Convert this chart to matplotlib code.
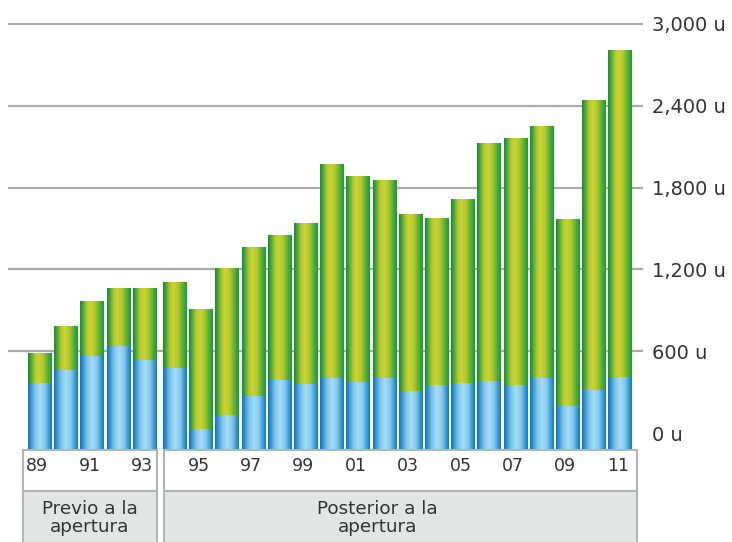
import numpy as np
import matplotlib.pyplot as plt
import matplotlib.transforms as mtransforms
from matplotlib.colors import LinearSegmentedColormap
from matplotlib.patches import Rectangle

# data
years = ['89', '90', '91', '92', '93', '94', '95', '96', '97', '98', '99', '00',
         '01', '02', '03', '04', '05', '06', '07', '08', '09', '10', '11']
blue = [366, 463, 566, 639, 537, 478, 29, 132, 271, 388, 359, 402,
        373, 402, 307, 351, 366, 380, 351, 405, 200, 317, 410]
total = [585, 783, 966, 1061, 1061, 1105, 907, 1207, 1361, 1456, 1544, 1976,
         1888, 1858, 1610, 1580, 1720, 2129, 2166, 2254, 1573, 2444, 2810]
yticks = [0, 600, 1200, 1800, 2400, 3000]
groups = ['Previo a la\napertura', 'Posterior a la\napertura']
n_before = 5

W, H = 732, 542
fig = plt.figure(figsize=(W / 100, H / 100), dpi=100)
ax = fig.add_axes([8 / W, (H - 449) / H, (643 - 8) / W, (449 - 15) / H])

base = -117
x = np.arange(len(years)) + np.where(np.arange(len(years)) >= n_before, 0.15, 0.0)
width = 0.88
blue_arr = np.array(blue)
green_arr = np.array(total) - blue_arr

blue_cmap = LinearSegmentedColormap.from_list('b', [
    (0.0, '#0a72bb'), (0.3, '#7cc6ec'), (0.5, '#a6dbf4'), (0.7, '#86cbee'), (1.0, '#0b7ac2')])
green_cmap = LinearSegmentedColormap.from_list('g', [
    (0.0, '#0a8c3c'), (0.3, '#b3ca2f'), (0.45, '#cdd331'), (0.62, '#b2c92f'), (1.0, '#119a3b')])

bb = ax.bar(x, blue_arr - base, width, bottom=base, color='none', lw=0, zorder=2)
gb = ax.bar(x, green_arr, width, bottom=blue_arr, color='none', lw=0, zorder=2)

grad = np.linspace(0, 1, 256).reshape(1, -1)
for bars, cmap in ((bb, blue_cmap), (gb, green_cmap)):
    for p in bars:
        x0, y0 = p.get_x(), p.get_y()
        im = ax.imshow(grad, cmap=cmap, aspect='auto', zorder=2,
                       extent=[x0, x0 + p.get_width(), y0, y0 + p.get_height()],
                       interpolation='bilinear')
        im.set_clip_path(p)

for t in yticks[1:]:
    ax.axhline(t, color='#aaaaaa', lw=1.6, zorder=1)

ax.set_xlim(-1.202, 23.03)
ax.set_ylim(base, 3066)
for s in ax.spines.values():
    s.set_visible(False)
ax.set_xticks([])
ax.yaxis.tick_right()
ax.set_yticks(yticks)
ax.set_yticklabels([f'{t:,} u' for t in yticks])
ax.tick_params(axis='y', length=0, pad=6.5, labelsize=14, labelcolor='#333333')

# category boxes under the bars
trans = mtransforms.blended_transform_factory(ax.transData, ax.transAxes)
to_ax = lambda py: (449 - py) / 434.0
to_dx = lambda px: (px - 39.5) / 26.2
boxes = [(to_dx(23), to_dx(157)), (to_dx(164), to_dx(637))]
label_x = [to_dx(90), to_dx(377)]
for (bx0, bx1), lab, lx in zip(boxes, groups, label_x):
    ax.add_patch(Rectangle((bx0, to_ax(490.5)), bx1 - bx0, to_ax(450) - to_ax(490.5),
                           transform=trans, facecolor='white', edgecolor='#b4b4b4',
                           lw=1.5, clip_on=False))
    ax.add_patch(Rectangle((bx0, to_ax(570)), bx1 - bx0, to_ax(490.5) - to_ax(570),
                           transform=trans, facecolor='#e3e4e4', edgecolor='#b4b4b4',
                           lw=1.5, clip_on=False))
    ax.text(lx, to_ax(517.5), lab, transform=trans, ha='center', va='center',
            fontsize=13.2, color='#333333', linespacing=1.0)

for i in range(0, len(years), 2):
    ax.text(x[i] - 0.08, to_ax(466), years[i], transform=trans, ha='center', va='center',
            fontsize=12.5, color='#333333')

fig.savefig('out.png', dpi=100)
